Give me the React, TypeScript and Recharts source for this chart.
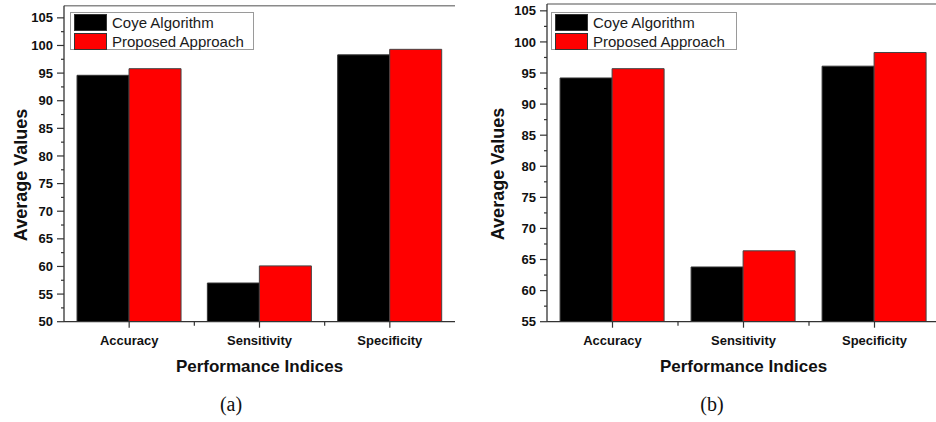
import React from 'react';
import { BarChart, Bar, XAxis, YAxis, Legend, ReferenceLine } from 'recharts';

const categories = ['Accuracy', 'Sensitivity', 'Specificity'];
const seriesNames = ['Coye Algorithm', 'Proposed Approach'];
const coyeA = [94.6, 57.0, 98.3];
const proposedA = [95.8, 60.1, 99.3];
const coyeB = [94.2, 63.8, 96.1];
const proposedB = [95.7, 66.4, 98.3];
const ticksA = [50, 55, 60, 65, 70, 75, 80, 85, 90, 95, 100, 105];
const ticksB = [55, 60, 65, 70, 75, 80, 85, 90, 95, 100, 105];
const domainA: [number, number] = [50, 107.2];
const domainB: [number, number] = [55, 106.1];
const captions = ['(a)', '(b)'];
const yTitle = 'Average Values';
const xTitle = 'Performance Indices';

const FONT = '"Liberation Sans", Arial, sans-serif';
const AXIS = '#333';
const TICK_SIZE = 7;
const TICK_MARGIN = 4;
const X_TICK_SIZE = 6;
const X_TICK_MARGIN = 7;
const CHART_W = 470;

const withMinors = (majors: number[]) => {
  const out: number[] = [];
  majors.forEach((t, i) => {
    out.push(t);
    if (i < majors.length - 1) out.push((t + majors[i + 1]) / 2);
  });
  return out;
};

const makeYTick = (majors: number[]) => (props: any) => {
  const { x, y, payload } = props;
  const axisX = x + TICK_SIZE + TICK_MARGIN;
  const major = majors.includes(payload.value);
  return (
    <g>
      <line x1={axisX - (major ? TICK_SIZE : 3)} x2={axisX} y1={y} y2={y} stroke={AXIS} strokeWidth={1.2} />
      {major && (
        <text x={x} y={y} dy={4.6} textAnchor="end" fontFamily={FONT} fontWeight="bold" fontSize={13} fill="#111">
          {payload.value}
        </text>
      )}
    </g>
  );
};

const makeXTick = (bandWidth: number, count: number) => (props: any) => {
  const { x, y, payload, index } = props;
  const axisY = y - X_TICK_SIZE - X_TICK_MARGIN;
  return (
    <g>
      <line x1={x} x2={x} y1={axisY} y2={axisY + X_TICK_SIZE} stroke={AXIS} strokeWidth={1.2} />
      {index < count - 1 && (
        <line x1={x + bandWidth / 2} x2={x + bandWidth / 2} y1={axisY} y2={axisY + 4} stroke={AXIS} strokeWidth={1.2} />
      )}
      <text x={x} y={y} dy={10} textAnchor="middle" fontFamily={FONT} fontWeight="bold" fontSize={13} fill="#111">
        {payload.value}
      </text>
    </g>
  );
};

const makeLegend = (boxWidth: number) => (props: any) => {
  const { payload } = props;
  return (
    <div
      style={{
        width: boxWidth,
        height: 38,
        border: '1px solid #9a9a9a',
        boxSizing: 'border-box',
        background: '#fff',
        paddingLeft: 3,
      }}
    >
      {(payload || []).map((p: any) => (
        <div key={p.value} style={{ display: 'flex', alignItems: 'center', height: 19 }}>
          <div style={{ width: 33, height: 17.4, background: p.color, border: '1px solid #333', boxSizing: 'border-box' }} />
          <span style={{ marginLeft: 5, fontFamily: FONT, fontSize: 15, color: '#1a1a1a', lineHeight: '17px' }}>{p.value}</span>
        </div>
      ))}
    </div>
  );
};

type PanelProps = {
  coye: number[];
  proposed: number[];
  ticks: number[];
  domain: [number, number];
  left: number;
  yAxisWidth: number;
  marginTop: number;
  marginRight: number;
  legendLeft: number;
  legendWidth: number;
};

const Panel = (p: PanelProps) => {
  const data = categories.map((name, i) => ({ name, coye: p.coye[i], proposed: p.proposed[i] }));
  const YTick = makeYTick(p.ticks);
  const bandWidth = (CHART_W - p.yAxisWidth - p.marginRight) / categories.length;
  const XTick = makeXTick(bandWidth, categories.length);
  return (
    <div style={{ position: 'absolute', left: p.left, top: 0 }}>
      <BarChart
        width={CHART_W}
        height={422}
        data={data}
        margin={{ top: p.marginTop, right: p.marginRight, left: 0, bottom: 70.3 }}
        barCategoryGap="10%"
        barGap={0}
      >
        <XAxis
          xAxisId="main"
          dataKey="name"
          height={30}
          tickSize={X_TICK_SIZE}
          tickMargin={X_TICK_MARGIN}
          axisLine={{ stroke: AXIS, strokeWidth: 1.3 }}
          tickLine={false}
          tick={<XTick />}
          interval={0}
        />
        <YAxis
          yAxisId="main"
          type="number"
          domain={p.domain}
          ticks={withMinors(p.ticks)}
          allowDataOverflow
          width={p.yAxisWidth}
          tickSize={TICK_SIZE}
          tickMargin={TICK_MARGIN}
          tickLine={false}
          axisLine={{ stroke: AXIS, strokeWidth: 1.3 }}
          tick={<YTick />}
          interval={0}
        />
        <ReferenceLine yAxisId="main" xAxisId="main" y={p.domain[1]} stroke="#8a8a8a" strokeWidth={1.4} />
        <Legend
          layout="horizontal"
          verticalAlign="middle"
          align="center"
          content={makeLegend(p.legendWidth)}
          wrapperStyle={{ left: p.legendLeft, top: 12, width: 'auto' }}
        />
        <Bar xAxisId="main" yAxisId="main" dataKey="coye" name={seriesNames[0]} fill="#000000" stroke="#333" strokeWidth={1} isAnimationActive={false} />
        <Bar xAxisId="main" yAxisId="main" dataKey="proposed" name={seriesNames[1]} fill="#ff0000" stroke="#444" strokeWidth={1} isAnimationActive={false} />
      </BarChart>
    </div>
  );
};

const Titles = () => (
  <svg width={936} height={422} style={{ position: 'absolute', left: 0, top: 0, pointerEvents: 'none' }}>
    <text x={26.5} y={175} transform="rotate(-90, 26.5, 175)" textAnchor="middle" fontFamily={FONT} fontWeight="bold" fontSize={18} fill="#111">
      {yTitle}
    </text>
    <text x={504} y={174} transform="rotate(-90, 504, 174)" textAnchor="middle" fontFamily={FONT} fontWeight="bold" fontSize={18} fill="#111">
      {yTitle}
    </text>
    <text x={259.5} y={372} textAnchor="middle" fontFamily={FONT} fontWeight="bold" fontSize={17} fill="#111">
      {xTitle}
    </text>
    <text x={743.5} y={372} textAnchor="middle" fontFamily={FONT} fontWeight="bold" fontSize={17} fill="#111">
      {xTitle}
    </text>
    <text x={231} y={410.5} textAnchor="middle" fontFamily='"Liberation Serif", "Times New Roman", serif' fontSize={20} fill="#111">
      {captions[0]}
    </text>
    <text x={712} y={410.5} textAnchor="middle" fontFamily='"Liberation Serif", "Times New Roman", serif' fontSize={20} fill="#111">
      {captions[1]}
    </text>
  </svg>
);

export default function App() {
  return (
    <div style={{ position: 'absolute', left: 0, top: 0, width: 936, height: 422, overflow: 'hidden', background: '#fff' }}>
      <Panel coye={coyeA} proposed={proposedA} ticks={ticksA} domain={domainA} left={0} yAxisWidth={64} marginTop={5.7} marginRight={15} legendLeft={70} legendWidth={184} />
      <Panel coye={coyeB} proposed={proposedB} ticks={ticksB} domain={domainB} left={470} yAxisWidth={77} marginTop={4} marginRight={0} legendLeft={81} legendWidth={186} />
      <Titles />
    </div>
  );
}
